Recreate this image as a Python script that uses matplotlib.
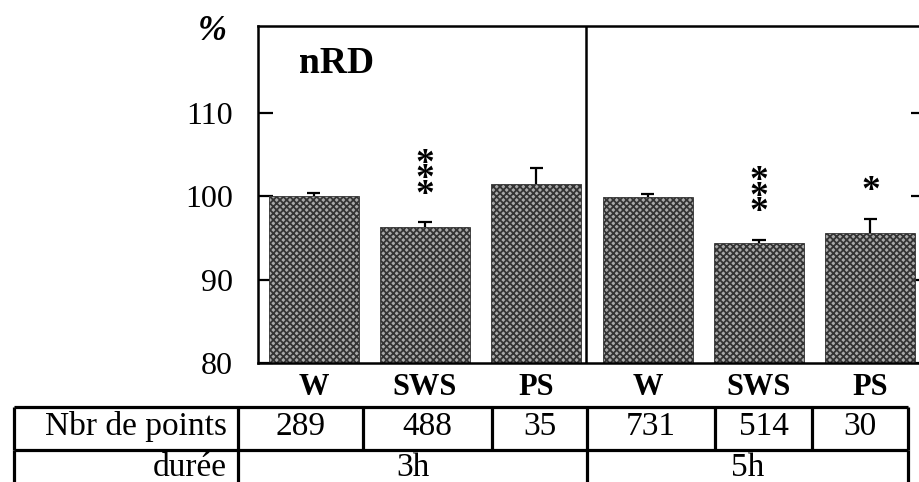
import matplotlib.pyplot as plt
import numpy as np

# valeurs (nRD, % de la référence)
categories = ['W', 'SWS', 'PS', 'W', 'SWS', 'PS']
means = [100.0, 96.3, 101.5, 99.9, 94.4, 95.6]
sem = [0.4, 0.6, 1.9, 0.35, 0.4, 1.7]
stars = [0, 3, 0, 0, 3, 1]
n_points = ['289', '488', '35', '731', '514', '30']
durees = ['3h', '5h']

plt.rcParams['font.family'] = ['Liberation Serif', 'DejaVu Serif']
plt.rcParams['hatch.linewidth'] = 1.3

W, H = 919, 482
fig = plt.figure(figsize=(W / 100, H / 100), dpi=100)

# axes principal (coordonnées en pixels de la référence)
left, right, top, bottom = 258, 926, 26, 363
ax = fig.add_axes([left / W, 1 - bottom / H, (right - left) / W, (bottom - top) / H])

x = np.arange(len(categories))
ax.bar(x, means, width=0.81, bottom=0, color='#a8a8a8', edgecolor='#333333',
       hatch='xxxxx', linewidth=0.6, zorder=2)
tops = np.array(means) + np.array(sem)
ax.vlines(x, means, tops, color='black', linewidth=1.6, zorder=3)
ax.hlines(tops, x - 0.06, x + 0.06, color='black', linewidth=1.6, zorder=3)

for xi, t, s in zip(x, tops, stars):
    for k in range(s):
        ax.annotate('*', (xi, t), xytext=(0, 27 + 15.5 * k), textcoords='offset pixels',
                    ha='center', va='center', fontsize=27, fontweight='bold')

ax.axvline(2.45, color='black', linewidth=1.8)
ax.set_xlim(-0.5, 5.5)
ax.set_ylim(80, 120.45)
ax.set_yticks([80, 90, 100, 110])
ax.set_xticks(x)
ax.set_xticklabels(categories, fontweight='bold')
ax.tick_params(axis='y', direction='in', length=11, width=1.6, labelsize=23, pad=18,
               right=True)
ax.tick_params(axis='x', length=0, labelsize=22, pad=7)
for sp in ax.spines.values():
    sp.set_linewidth(1.8)

fig.text(212 / W, 1 - 31 / H, '%', ha='center', va='center', fontsize=25,
         fontweight='bold', fontstyle='italic')
ax.text(0.062, 0.89, 'nRD', transform=ax.transAxes, ha='left', va='center',
        fontsize=27, fontweight='bold')

# tableau sous le graphique
tab = fig.add_axes([0, 0, 1, 1])
tab.set_xlim(0, W)
tab.set_ylim(H, 0)
tab.axis('off')
col_edges = [14, 238, 363, 492, 587, 715, 812, 908]
row1, row2, row3 = 407, 450, 490
lw = 2.3
tab.hlines([row1, row2], col_edges[0], col_edges[-1], color='black', linewidth=lw)
tab.vlines(col_edges, row1, row2, color='black', linewidth=lw)
tab.vlines([col_edges[0], col_edges[1], col_edges[4], col_edges[-1]], row2, row3,
           color='black', linewidth=lw)

fs = 24
ty1, ty2 = 427, 468
tab.text(col_edges[1] - 11, ty1, 'Nbr de points', ha='right', va='center', fontsize=fs)
tab.text(col_edges[1] - 11, ty2, 'durée', ha='right', va='center', fontsize=fs)
for i, txt in enumerate(n_points):
    tab.text((col_edges[i + 1] + col_edges[i + 2]) / 2, ty1, txt,
             ha='center', va='center', fontsize=fs)
for j, txt in enumerate(durees):
    a, b = (col_edges[1], col_edges[4]) if j == 0 else (col_edges[4], col_edges[-1])
    tab.text((a + b) / 2, ty2, txt, ha='center', va='center', fontsize=fs)

fig.savefig('out.png', dpi=100)
